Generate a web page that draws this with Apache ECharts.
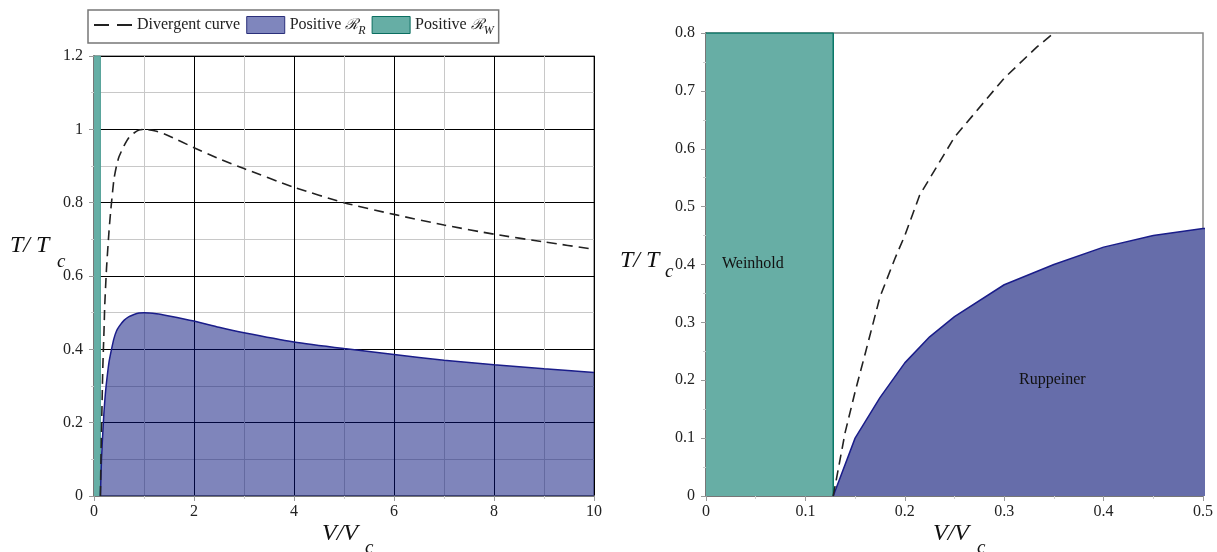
<html>
<meta charset="UTF-8">
<head>
    <script src="https://cdn.jsdelivr.net/npm/echarts@6/dist/echarts.min.js"></script>
</head>
<body style="margin:0;background:#fff">

<div id="mainChart" style="width:1217px;height:552px;"></div>

</body>
<script>
    // divergent curve
    var divV = [0.128, 0.14, 0.15, 0.16, 0.175, 0.19, 0.2, 0.215, 0.25, 0.3, 0.333, 0.35, 0.4, 0.45, 0.5, 0.6, 0.7, 0.8, 0.9, 1.0, 1.25, 1.5, 2, 2.5, 3, 4, 5, 6, 7, 8, 9, 10];
    var divT = [0, 0.11, 0.18, 0.245, 0.344, 0.41, 0.45, 0.52, 0.62, 0.722, 0.776, 0.80, 0.865, 0.9, 0.925, 0.955, 0.978, 0.99, 0.998, 1.0, 0.995, 0.982, 0.95, 0.92, 0.893, 0.842, 0.80, 0.768, 0.739, 0.714, 0.693, 0.673];
    // positive Ruppeiner boundary
    var rupV = [0.128, 0.15, 0.175, 0.2, 0.225, 0.25, 0.3, 0.35, 0.4, 0.45, 0.5, 0.6, 0.7, 0.8, 0.9, 1.0, 1.25, 1.5, 2, 2.5, 3, 4, 5, 6, 7, 8, 9, 10];
    var rupT = [0, 0.10, 0.17, 0.23, 0.275, 0.31, 0.365, 0.40, 0.43, 0.45, 0.462, 0.479, 0.489, 0.495, 0.499, 0.5, 0.497, 0.491, 0.477, 0.46, 0.445, 0.42, 0.402, 0.386, 0.37, 0.358, 0.347, 0.337];
    // positive Weinhold strip
    var weinV = [0, 0.128, 0.128];
    var weinTopLeft = 1.2;
    var weinTopRight = 0.8;

    // [min, max, interval]
    var xTicksLeft = [0, 10, 2];
    var yTicksLeft = [0, 1.2, 0.2];
    var xTicksRight = [0, 0.5, 0.1];
    var yTicksRight = [0, 0.8, 0.1];

    var serif = "'Liberation Serif', 'DejaVu Serif', serif";
    var dash = [10, 6];

    function zip(a, b) {
        var out = [];
        for (var i = 0; i < a.length; i++) {
            out.push([a[i], b[i]]);
        }
        return out;
    }

    var weinLeft = zip(weinV, [weinTopLeft, weinTopLeft, 0]);
    var weinRight = zip(weinV, [weinTopRight, weinTopRight, 0]);
    var divData = zip(divV, divT);
    var rupData = zip(rupV, rupT);

    function makeAxis(idx, ticks, isX, grid) {
        return {
            gridIndex: idx,
            type: 'value',
            min: ticks[0],
            max: ticks[1],
            interval: ticks[2],
            axisLine: {show: true, onZero: false, lineStyle: {color: '#777', width: 2}},
            axisTick: {show: true, length: 5, lineStyle: {color: '#999'}},
            minorTick: {show: true, splitNumber: 2, length: 3, lineStyle: {color: '#ccc'}},
            splitLine: {show: grid, lineStyle: {color: '#000', width: 1}},
            minorSplitLine: {show: grid, lineStyle: {color: '#c8c8c8', width: 1}},
            axisLabel: {
                fontFamily: serif, fontSize: 16, color: '#222',
                margin: isX ? 8 : 11
            }
        };
    }

    function label(text, x, y, size, italic) {
        return {
            type: 'text', left: x, top: y, z: 100,
            style: {
                text: text, fontFamily: serif, fontSize: size,
                fontStyle: italic ? 'italic' : 'normal', fill: '#111'
            }
        };
    }

    var chart = echarts.init(document.getElementById('mainChart'));

    chart.setOption({
        animation: false,
        grid: [
            {left: 94, top: 56, width: 500, height: 440, show: true, borderColor: '#888', borderWidth: 1.5},
            {left: 706, top: 33, width: 497, height: 463, show: true, borderColor: '#888', borderWidth: 1.5}
        ],
        xAxis: [
            makeAxis(0, xTicksLeft, true, true),
            makeAxis(1, xTicksRight, true, false)
        ],
        yAxis: [
            makeAxis(0, yTicksLeft, false, true),
            makeAxis(1, yTicksRight, false, false)
        ],
        legend: {
            left: 88,
            top: 10,
            padding: [6, 5, 6, 5],
            itemGap: 6,
            itemWidth: 38,
            itemHeight: 17,
            borderColor: '#777',
            borderWidth: 1.5,
            backgroundColor: '#fff',
            textStyle: {
                fontFamily: serif, fontSize: 16, color: '#222',
                rich: {
                    n: {fontFamily: serif, fontSize: 16, color: '#222'},
                    r: {fontFamily: "'DejaVu Serif', serif", fontSize: 15, fontStyle: 'italic', color: '#222'},
                    s: {fontFamily: serif, fontSize: 12, fontStyle: 'italic', color: '#222', padding: [12, 0, 0, 0]}
                }
            },
            formatter: function (name) {
                if (name === 'Positive RR') return '{n|Positive }{r|ℛ}{s|R}';
                if (name === 'Positive RW') return '{n|Positive }{r|ℛ}{s|W}';
                return '{n|' + name + '}';
            },
            data: [
                {name: 'Divergent curve', itemStyle: {color: 'rgba(0,0,0,0)', borderWidth: 0}, lineStyle: {color: '#222', width: 2, type: [15, 8]}},
                {name: 'Positive RR', icon: 'rect', itemStyle: {color: '#7f86bd', borderColor: '#2a2f7a', borderWidth: 1}},
                {name: 'Positive RW', icon: 'rect', itemStyle: {color: '#66aea5', borderColor: '#0a6e60', borderWidth: 1}}
            ]
        },
        graphic: [
            label('T/ T', 10, 234, 24, true),
            label('c', 57, 252, 19, true),
            label('T/ T', 620, 249, 24, true),
            label('c', 665, 262, 19, true),
            label('V/V', 322, 522, 24, true),
            label('c', 365, 538, 19, true),
            label('V/V', 933, 522, 24, true),
            label('c', 977, 538, 19, true),
            label('Weinhold', 722, 256, 16, false),
            label('Ruppeiner', 1019, 372, 16, false)
        ],
        series: [
            {
                name: 'Positive RW', type: 'line', xAxisIndex: 0, yAxisIndex: 0,
                data: weinLeft, symbol: 'none',
                lineStyle: {color: '#4f9f95', width: 1},
                itemStyle: {color: '#66aea5'},
                areaStyle: {color: '#66aea5', opacity: 1}
            },
            {
                name: 'Positive RR', type: 'line', xAxisIndex: 0, yAxisIndex: 0,
                data: rupData, symbol: 'none', smooth: 0.2,
                lineStyle: {color: '#1a1d8a', width: 1.5},
                itemStyle: {color: '#7f86bd'},
                areaStyle: {color: 'rgba(0,12,120,0.5)', opacity: 1}
            },
            {
                name: 'Divergent curve', type: 'line', xAxisIndex: 0, yAxisIndex: 0,
                data: divData, symbol: 'none', smooth: 0.2,
                itemStyle: {color: '#222'},
                lineStyle: {color: '#222', width: 1.6, type: dash}
            },
            {
                name: 'Positive RW', type: 'line', xAxisIndex: 1, yAxisIndex: 1,
                data: weinRight, symbol: 'none',
                lineStyle: {color: '#0a7868', width: 1.5},
                itemStyle: {color: '#66aea5'},
                areaStyle: {color: '#67aea5', opacity: 1}
            },
            {
                name: 'Positive RR', type: 'line', xAxisIndex: 1, yAxisIndex: 1,
                data: rupData, symbol: 'none',
                lineStyle: {color: '#1a1d8a', width: 1.5},
                itemStyle: {color: '#7f86bd'},
                areaStyle: {color: '#666daa', opacity: 1}
            },
            {
                name: 'Divergent curve', type: 'line', xAxisIndex: 1, yAxisIndex: 1,
                data: divData, symbol: 'none',
                itemStyle: {color: '#222'},
                lineStyle: {color: '#222', width: 1.6, type: dash}
            }
        ]
    });
</script>
</html>
